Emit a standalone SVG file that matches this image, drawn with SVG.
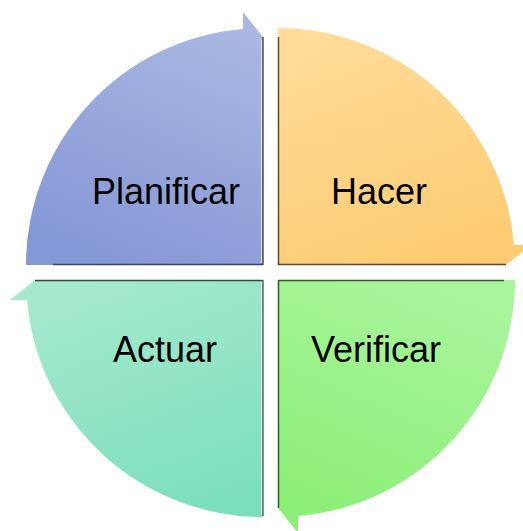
<svg xmlns="http://www.w3.org/2000/svg" width="523" height="531" viewBox="0 0 523 531">
  <defs>
    <linearGradient id="gBlue" x1="0.7" y1="0" x2="0.3" y2="1">
      <stop offset="0" stop-color="#aab7e2"/>
      <stop offset="1" stop-color="#8497d6"/>
    </linearGradient>
    <linearGradient id="gOrange" x1="0.3" y1="0" x2="0.7" y2="1">
      <stop offset="0" stop-color="#ffdc98"/>
      <stop offset="1" stop-color="#fdcb72"/>
    </linearGradient>
    <linearGradient id="gGreen" x1="0.7" y1="0" x2="0.3" y2="1">
      <stop offset="0" stop-color="#a9f59d"/>
      <stop offset="1" stop-color="#8cef76"/>
    </linearGradient>
    <linearGradient id="gTeal" x1="0.3" y1="0" x2="0.7" y2="1">
      <stop offset="0" stop-color="#a5e9cd"/>
      <stop offset="1" stop-color="#7cdfbc"/>
    </linearGradient>
  </defs>
  <style>
    .lbl { font-family: "Liberation Sans", Arial, sans-serif; font-size: 36px; fill: #000000; }
    .edge { stroke-width: 1.5; fill: none; }
    .hl { stroke: #e8ecf4; stroke-width: 1; fill: none; opacity: 0.8; }
  </style>

  <g id="planificar">
    <path d="M 263 265 L 26 265 A 237 237 0 0 1 243 29 L 243 12 L 263 37 Z" fill="url(#gBlue)"/>
    <line class="edge" x1="53" y1="264.5" x2="263" y2="264.5" stroke="#3b4466"/>
    <line class="edge" x1="263" y1="37" x2="263" y2="265" stroke="#4a4f60"/>
    <line class="hl" x1="261.5" y1="40" x2="261.5" y2="263"/>
    <text class="lbl" x="92" y="204">Planificar</text>
  </g>

  <g id="hacer">
    <path d="M 278 265 L 278 28 A 237 237 0 0 1 514 245 L 531 245 L 506 265 Z" fill="url(#gOrange)"/>
    <line class="edge" x1="278.5" y1="37" x2="278.5" y2="265" stroke="#5c4a28"/>
    <line class="edge" x1="278" y1="264.5" x2="506" y2="264.5" stroke="#5c4a28"/>
    <text class="lbl" x="331" y="204">Hacer</text>
  </g>

  <g id="verificar">
    <path d="M 278 280 L 515 280 A 237 237 0 0 1 298 516 L 298 533 L 278 508 Z" fill="url(#gGreen)"/>
    <line class="edge" x1="278" y1="280.5" x2="504" y2="280.5" stroke="#355a2e"/>
    <line class="edge" x1="278.5" y1="280" x2="278.5" y2="508" stroke="#355a2e"/>
    <text class="lbl" x="311" y="362">Verificar</text>
  </g>

  <g id="actuar">
    <path d="M 263 280 L 263 517 A 237 237 0 0 1 27 300 L 10 300 L 35 280 Z" fill="url(#gTeal)"/>
    <line class="edge" x1="35" y1="280.5" x2="263" y2="280.5" stroke="#2f4a40"/>
    <line class="edge" x1="263" y1="280" x2="263" y2="516" stroke="#5a6a66"/>
    <line class="hl" x1="261.5" y1="282" x2="261.5" y2="515"/>
    <text class="lbl" x="113" y="362">Actuar</text>
  </g>

  <g id="connectors"></g>
</svg>
